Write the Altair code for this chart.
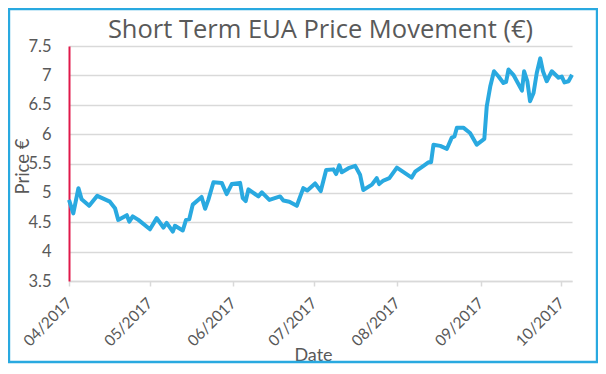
import altair as alt
import pandas as pd

# Day offsets from 1 April 2017 and EUA prices (EUR)
day_offsets = [0, 1.6, 3.5, 4.7, 7.5, 10.5, 15.2, 17.1, 18.3, 21.5, 22.4, 23.7, 25.8,
               30.1, 32.6, 35.1, 36.3, 38.6, 39.4, 42.3, 43.5, 44.7, 46.0, 49.3, 50.6,
               51.8, 53.7, 56.8, 58.6, 60.5, 63.6, 64.6, 65.7, 66.7, 70.4, 71.7, 74.5,
               78.5, 79.7, 81.9, 84.7, 87.1, 88.6, 91.5, 93.6, 95.6, 98.3, 99.3, 100.5,
               101.4, 103.9, 106.4, 108.2, 109.4, 112.6, 114.4, 115.3, 116.9, 119.1,
               121.9, 127.4, 128.7, 131.8, 133.6, 134.6, 135.5, 138.0, 140.5, 142.3,
               143.3, 144.2, 146.6, 149.1, 151.6, 154.4, 155.3, 156.6, 158.0, 159.7,
               161.5, 162.5, 163.4, 165.2, 168.4, 169.2, 170.4, 171.4, 172.7, 173.9,
               175.2, 176.2, 177.6, 179.5, 182.0, 183.2, 184.2, 185.7, 187.0]
prices = [4.88, 4.65, 5.08, 4.89, 4.78, 4.95, 4.85, 4.74, 4.54, 4.62, 4.51, 4.60, 4.54,
          4.38, 4.57, 4.41, 4.49, 4.34, 4.44, 4.36, 4.54, 4.55, 4.80, 4.93, 4.73,
          4.88, 5.18, 5.17, 4.98, 5.15, 5.17, 4.91, 4.86, 5.06, 4.94, 5.01, 4.88,
          4.94, 4.87, 4.85, 4.78, 5.08, 5.04, 5.16, 5.03, 5.39, 5.40, 5.32, 5.47,
          5.35, 5.42, 5.46, 5.31, 5.05, 5.14, 5.25, 5.15, 5.21, 5.25,
          5.43, 5.26, 5.36, 5.46, 5.52, 5.52, 5.82, 5.80, 5.75, 5.94,
          5.96, 6.11, 6.11, 6.02, 5.82, 5.92, 6.47, 6.81, 7.07, 6.98,
          6.87, 6.89, 7.10, 7.01, 6.74, 7.07, 6.90, 6.56, 6.70, 7.04,
          7.29, 7.07, 6.90, 7.07, 6.96, 6.98, 6.88, 6.90, 7.01]
start_date = "2017-04-01"
tick_months = [4, 5, 6, 7, 8, 9, 10]
y_ticks = [3.5, 4, 4.5, 5, 5.5, 6, 6.5, 7, 7.5]

df = pd.DataFrame({
    "Date": pd.Timestamp(start_date) + pd.to_timedelta(day_offsets, unit="D"),
    "Price": prices,
})

GRAY = "#595959"
BLUE = "#29A9E0"
x_enc = alt.X(
    "Date:T",
    scale=alt.Scale(domain=[alt.DateTime(year=2017, month=4, date=1),
                            alt.DateTime(year=2017, month=10, date=5)]),
    axis=alt.Axis(
        values=[alt.DateTime(year=2017, month=m, date=1) for m in tick_months],
        format="%m/%Y", labelAngle=-45, labelAlign="right", labelBaseline="middle",
        labelFont="Lato", labelFontSize=15.5, labelColor=GRAY, labelPadding=14,
        domainColor="#D9D9D9", domainWidth=1.5, tickColor="#D9D9D9", tickSize=5,
        tickWidth=1.5, grid=False, title="Date", titleFont="Lato", titleFontSize=18,
        titleFontWeight="normal", titleColor=GRAY, titleX=244, titleY=74,
        titleBaseline="middle", titleAlign="center",
    ),
)
y_enc = alt.Y(
    "Price:Q",
    scale=alt.Scale(domain=[3.5, 7.5], nice=False, zero=False),
    axis=alt.Axis(
        values=y_ticks, format="~g", labelFont="Lato", labelFontSize=16.5,
        labelColor=GRAY, labelPadding=18, ticks=False, domainColor="#E0194A",
        domainWidth=2, grid=True, gridColor="#D9D9D9", gridWidth=1.5,
        title="Price €", titleFont="Lato", titleFontSize=18.5, titleFontWeight="normal",
        titleColor=GRAY, titleX=-47, titleY=120, titleAngle=-90,
        titleBaseline="middle", titleAlign="center",
    ),
)

line = alt.Chart(df).mark_line(color=BLUE, strokeWidth=4,
                               strokeJoin="round").encode(x=x_enc, y=y_enc)

frame = alt.Chart(pd.DataFrame({"f": [0]})).mark_rect(
    filled=False, stroke=BLUE, strokeWidth=2.4, strokeOpacity=1
).encode(x=alt.value(-60), x2=alt.value(528), y=alt.value(-37), y2=alt.value(316))

chart = alt.layer(line, frame).properties(
    width=503, height=235,
    title=alt.TitleParams("Short Term EUA Price Movement (€)", font="Open Sans",
                          fontSize=25.5, fontWeight="normal", color=GRAY,
                          anchor="middle", offset=0, dy=36),
    autosize=alt.AutoSizeParams(type="none"),
    padding={"left": 61, "top": 38, "right": 26, "bottom": 83},
).configure_view(stroke=None)

chart.save("out.html", embed_options={"renderer": "svg", "actions": False})
